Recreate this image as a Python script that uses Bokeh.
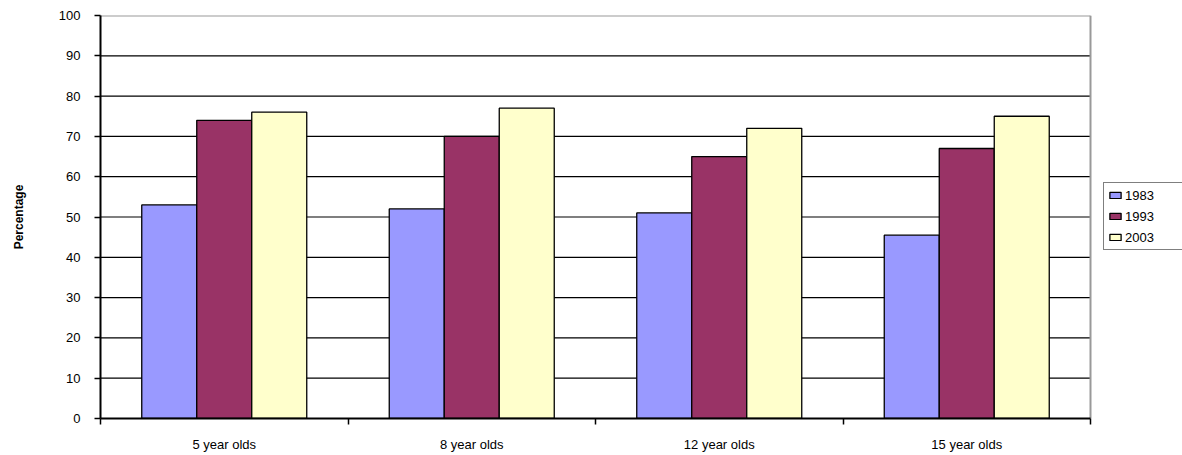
from bokeh.plotting import figure
from bokeh.models import FixedTicker, Legend, LegendItem, Range1d, ColumnDataSource
from bokeh.embed import file_html
from bokeh.resources import INLINE

categories = ["5 year olds", "8 year olds", "12 year olds", "15 year olds"]
series_names = ["1983", "1993", "2003"]
values_1983 = [53, 52, 51, 45.5]
values_1993 = [74, 70, 65, 67]
values_2003 = [76, 77, 72, 75]
y_ticks = [0, 10, 20, 30, 40, 50, 60, 70, 80, 90, 100]

colors = ["#9999FF", "#993366", "#FFFFCC"]
all_values = [values_1983, values_1993, values_2003]

n = len(categories)
y_max = y_ticks[-1]
# frame runs to the window's right edge; the plot area itself ends at x = n
x_end = n * 1082 / 990

p = figure(width=1182, height=455, output_backend="svg", toolbar_location=None,
           x_range=Range1d(0, x_end), y_range=Range1d(0, y_max),
           min_border_left=100, min_border_top=15, min_border_bottom=37,
           min_border_right=0)
p.background_fill_color = "white"
p.border_fill_color = "white"
p.outline_line_color = None
p.xgrid.grid_line_color = None
p.ygrid.grid_line_color = None

# gridlines inside the plot area only
inner = y_ticks[1:-1]
p.segment(x0=[0] * len(inner), x1=[n] * len(inner), y0=inner, y1=inner,
          line_color="black", line_width=1.2, level="underlay")
# gray plot-area border on top and right
p.segment(x0=[0, n], x1=[n, n], y0=[y_max, 0], y1=[y_max, y_max],
          line_color="#999999", line_width=2, level="underlay")

bw = 1 / 4.5
renderers = []
for k, (name, vals, col) in enumerate(zip(series_names, all_values, colors)):
    xs = [i + 0.5 + (k - 1) * bw for i in range(n)]
    src = ColumnDataSource(dict(x=xs, top=vals))
    r = p.vbar(x="x", top="top", width=bw, bottom=0, source=src,
               fill_color=col, line_color="black", line_width=1.3)
    renderers.append((name, r))

# axes
p.xaxis.bounds = (0, n)
p.xaxis.ticker = FixedTicker(ticks=[i + 0.5 for i in range(n)],
                             minor_ticks=list(range(n + 1)))
p.xaxis.major_label_overrides = {i + 0.5: c for i, c in enumerate(categories)}
p.xaxis.major_tick_line_color = None
p.xaxis.minor_tick_out = 6
p.xaxis.minor_tick_in = 0
p.xaxis.minor_tick_line_color = "black"
p.xaxis.minor_tick_line_width = 1.5
p.xaxis.axis_line_width = 2
p.xaxis.axis_line_color = "black"
p.xaxis.major_label_text_font = "Liberation Sans"
p.xaxis.major_label_text_font_size = "13px"
p.xaxis.major_label_text_color = "black"
p.xaxis.major_label_standoff = 12

p.yaxis.ticker = FixedTicker(ticks=y_ticks)
p.yaxis.major_tick_out = 6
p.yaxis.major_tick_in = 0
p.yaxis.major_tick_line_width = 1.5
p.yaxis.minor_tick_line_color = None
p.yaxis.axis_line_width = 2
p.yaxis.axis_line_color = "black"
p.yaxis.major_label_text_font = "Liberation Sans"
p.yaxis.major_label_text_font_size = "13px"
p.yaxis.major_label_text_color = "black"
p.yaxis.major_label_standoff = 14
p.yaxis.axis_label = "Percentage"
p.yaxis.axis_label_text_font = "Liberation Sans"
p.yaxis.axis_label_text_font_size = "12px"
p.yaxis.axis_label_text_font_style = "bold"
p.yaxis.axis_label_text_color = "black"
p.yaxis.axis_label_standoff = 30

legend = Legend(items=[LegendItem(label=nm, renderers=[r]) for nm, r in renderers],
                location=(1003, 168), border_line_color="black", border_line_width=1,
                label_text_font="Liberation Sans", label_text_font_size="13px",
                label_text_color="black",
                glyph_width=14, glyph_height=8, spacing=5, padding=4,
                label_standoff=3, margin=0, label_height=16, label_width=54)
p.add_layout(legend, "center")

open("out.html", "w").write(file_html(p, INLINE))
